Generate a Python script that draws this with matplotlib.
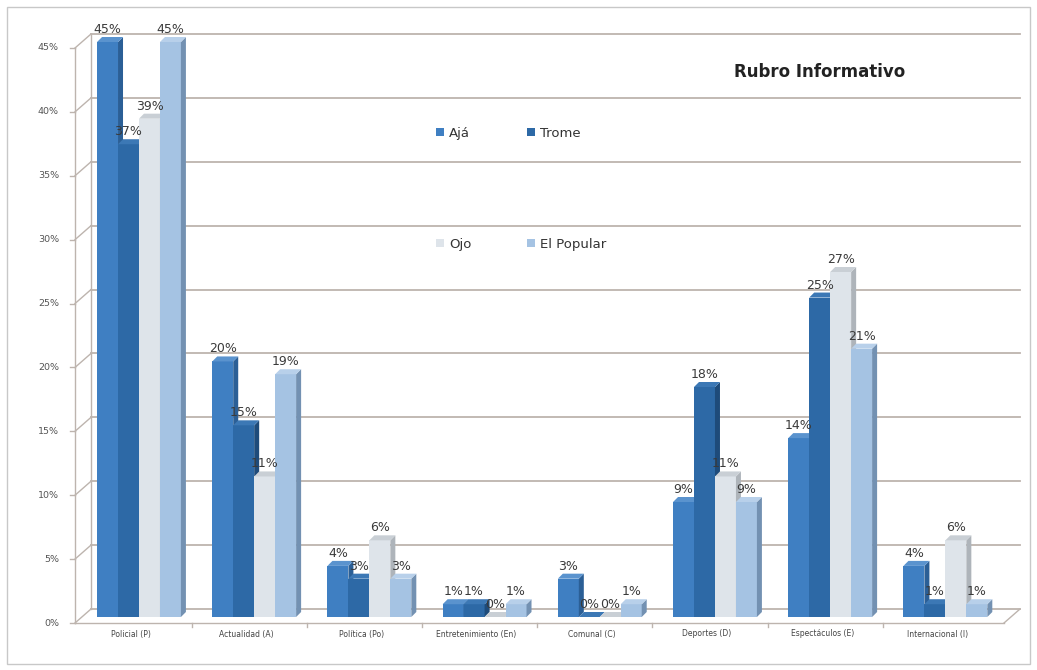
import numpy as np
import matplotlib.pyplot as plt
from matplotlib.patches import Polygon, Rectangle, Patch
from matplotlib.transforms import IdentityTransform, offset_copy

# datos
categorias = ["Policial (P)", "Actualidad (A)", "Política (Po)", "Entretenimiento (En)",
              "Comunal (C)", "Deportes (D)", "Espectáculos (E)", "Internacional (I)"]
series = ["Ajá", "Trome", "Ojo", "El Popular"]
aja = [45, 20, 4, 1, 3, 9, 14, 4]
trome = [37, 15, 3, 1, 0, 18, 25, 1]
ojo = [39, 11, 6, 0, 0, 11, 27, 6]
popular = [45, 19, 3, 1, 1, 9, 21, 1]
yticks = [0, 5, 10, 15, 20, 25, 30, 35, 40, 45]

colores = ["#3F7FC2", "#2D69A6", "#DEE4EA", "#A5C3E3"]
lados = ["#2B5F96", "#1E4B7A", "#AEB4BA", "#7391B2"]
topes = ["#5A93CE", "#3C78B5", "#C9CFD5", "#B8D0EA"]
grid_col = "#BDB4AE"

fig = plt.figure(figsize=(10.37, 6.70), dpi=100)
ax = fig.add_axes([80/1037, 53/670, 930/1037, 575/670])
ax.set_xlim(-0.512, 7.561)
ax.set_ylim(0, 45)
ax.axis('off')

ident = IdentityTransform()
D = 5          # profundidad de la barra (px)
FX, FY = -5, -6   # plano frontal
BX, BY = 11, 8    # pared del fondo
XR = 1020         # borde derecho de la pared

def px(x, y):
    return ax.transData.transform((x, y))

# pared del fondo: lineas de cuadricula
x0, _ = px(-0.512, 0)
for v in yticks:
    _, yy = px(0, v)
    ax.plot([x0 + BX, XR], [yy + BY, yy + BY], color=grid_col, lw=1.3,
            transform=ident, clip_on=False, zorder=1)
    # diagonal izquierda y marca
    ax.plot([x0 + FX, x0 + BX], [yy + FY, yy + BY], color=grid_col, lw=1.0,
            transform=ident, clip_on=False, zorder=1)
    ax.plot([x0 + FX - 5, x0 + FX], [yy + FY, yy + FY], color=grid_col, lw=1.0,
            transform=ident, clip_on=False, zorder=1)
    ax.text(x0 + FX - 16, yy + FY, f"{v}%", transform=ident, ha='right', va='center',
            fontsize=6.8, color="#555555")

_, y0 = px(0, 0)
_, y45 = px(0, 45)
# eje vertical frontal y del fondo
ax.plot([x0 + FX, x0 + FX], [y0 + FY, y45 + FY], color=grid_col, lw=1.0,
        transform=ident, clip_on=False, zorder=1)
ax.plot([x0 + BX, x0 + BX], [y0 + BY, y45 + BY], color=grid_col, lw=1.0,
        transform=ident, clip_on=False, zorder=1)
# piso frontal
xf = XR - (BX - FX)
ax.plot([x0 + FX, xf], [y0 + FY, y0 + FY], color=grid_col, lw=1.0,
        transform=ident, clip_on=False, zorder=1)
ax.plot([xf, XR], [y0 + FY, y0 + BY], color=grid_col, lw=1.0,
        transform=ident, clip_on=False, zorder=1)
for i in range(len(categorias) - 1):
    xx, _ = px(i + 0.5, 0)
    ax.plot([xx + FX, xx + FX], [y0 + FY, y0 + FY - 4], color=grid_col, lw=1.0,
            transform=ident, clip_on=False, zorder=1)

# barras 3D
w = 0.182
valores = [aja, trome, ojo, popular]
z = 3
for i in range(len(categorias)):
    for j, vals in enumerate(valores):
        xl = i + (j - 2) * w
        xr = xl + w
        h = vals[i]
        (a, b) = px(xl, 0)
        (c, d) = px(xr, h)
        front = Polygon([(a, b), (c, b), (c, d), (a, d)], closed=True,
                        facecolor=colores[j], edgecolor='none', transform=ident, zorder=z)
        side = Polygon([(c, b), (c + D, b + D), (c + D, d + D), (c, d)], closed=True,
                       facecolor=lados[j], edgecolor='none', transform=ident, zorder=z)
        top = Polygon([(a, d), (c, d), (c + D, d + D), (a + D, d + D)], closed=True,
                      facecolor=topes[j], edgecolor='none', transform=ident, zorder=z)
        for p in (front, side, top):
            p.set_clip_on(False)
            ax.add_patch(p)
        z += 1
        ax.text((xl + xr) / 2, h, f"{h}%", ha='center', va='bottom', fontsize=9,
                color="#3A3A3A", zorder=100,
                transform=offset_copy(ax.transData, fig, x=0, y=6, units='dots'))

# etiquetas de categorias
for i, cat in enumerate(categorias):
    ax.text(i, 0, cat, ha='center', va='center', fontsize=5.5, color="#444444",
            transform=offset_copy(ax.transData, fig, x=-8, y=-17, units='dots'))

# titulo
fig.text(820/1037, 1 - 72/670, "Rubro Informativo", ha='center', va='center',
         fontsize=12, fontweight='bold', color="#222222")

# leyenda
orden = [0, 2, 1, 3]
handles = [Patch(facecolor=colores[k], edgecolor='none') for k in orden]
labels = [series[k] for k in orden]
fig.legend(handles, labels, ncol=2, loc='upper left',
           bbox_to_anchor=(424/1037, 1 - 115/670), frameon=False, fontsize=9.5,
           handlelength=0.6, handleheight=0.6, handletextpad=0.4,
           columnspacing=4.2, labelspacing=7.4, labelcolor="#333333")

# marco exterior
fig.patches.append(Rectangle((7/1037, 6/670), 1023/1037, 657/670, transform=fig.transFigure,
                             fill=False, edgecolor="#C8C8C8", lw=1.0))

fig.savefig("out.png", dpi=100)
